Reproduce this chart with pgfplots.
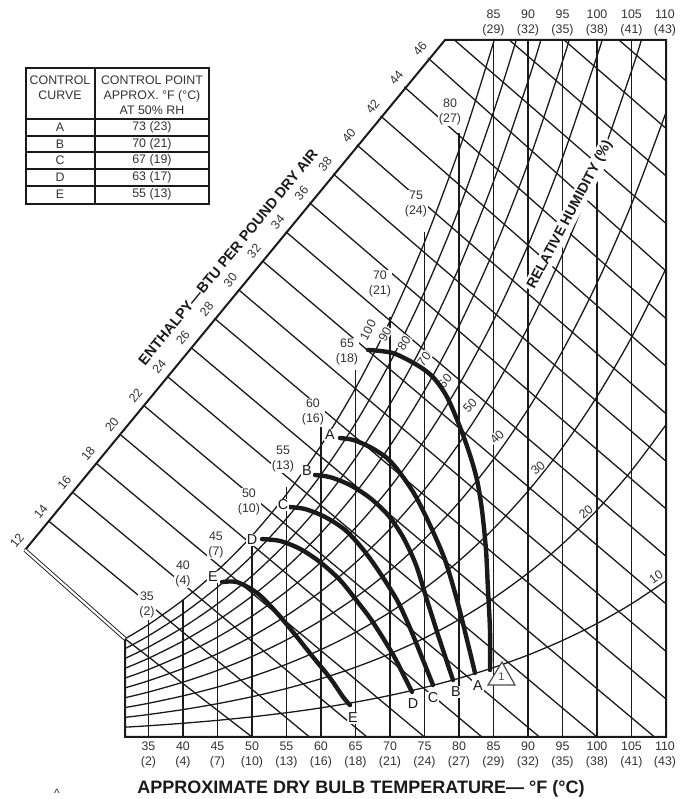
\documentclass[border=0pt]{standalone}
\usepackage{pgfplots}
\pgfplotsset{compat=1.18}
\usepackage{fontspec}
\setmainfont{Liberation Sans}
\definecolor{ink}{HTML}{1A1A1A}
\definecolor{txt}{HTML}{333333}
\pgfplotsset{chart/.style={scale only axis, width=340pt, height=399.5pt,
  xmin=13.478, xmax=112.029, ymin=-2.350, ymax=27.933, hide axis, clip=false,
  grid/.style={ink, line width=0.65pt},
  frame/.style={ink, line width=1.0pt},
  ctrl/.style={ink, line width=2.2pt, smooth, line cap=round}}}
\begin{document}
\begin{tikzpicture}
\begin{axis}[chart, name=ax]
% ---- frame
\addplot[frame] coordinates {(31.6,3.721) (31.6,0) (110,0) (110,26.417) (77.971,26.417) (17.101,7.087)};
% ---- saturation (100%)
\addplot[grid, smooth] coordinates {(31.6,3.721) (35,4.261) (40,5.195) (45,6.309) (50,7.631) (55,9.197) (60,11.044) (65,13.217) (70,15.768) (75,18.755) (80,22.245) (82.5,24.21) (85.11,26.417)};
% ---- RH curves
\addplot[grid, smooth] coordinates {(31.6,3.349) (35,3.835) (40,4.676) (45,5.678) (50,6.868) (55,8.277) (60,9.940) (65,11.895) (70,14.191) (75,16.880) (80,20.021) (85,23.686) (88.3,26.417)};
\addplot[grid, smooth] coordinates {(31.6,2.977) (35,3.409) (40,4.156) (45,5.047) (50,6.105) (55,7.358) (60,8.835) (65,10.574) (70,12.614) (75,15.004) (80,17.796) (85,21.054) (90,24.851) (91.87,26.417)};
\addplot[grid, smooth] coordinates {(31.6,2.605) (35,2.983) (40,3.637) (45,4.416) (50,5.342) (55,6.438) (60,7.731) (65,9.252) (70,11.038) (75,13.129) (80,15.572) (85,18.423) (90,21.745) (95,25.611) (95.96,26.417)};
\addplot[grid, smooth] coordinates {(31.6,2.233) (35,2.557) (40,3.117) (45,3.785) (50,4.579) (55,5.518) (60,6.626) (65,7.930) (70,9.461) (75,11.253) (80,13.347) (85,15.791) (90,18.638) (95,21.952) (100,25.808) (100.73,26.417)};
\addplot[grid, smooth] coordinates {(31.6,1.861) (35,2.131) (40,2.598) (45,3.155) (50,3.816) (55,4.599) (60,5.522) (65,6.609) (70,7.884) (75,9.378) (80,11.123) (85,13.159) (90,15.532) (95,18.294) (100,21.507) (105,25.241) (106.43,26.417)};
\addplot[grid, smooth] coordinates {(31.6,1.488) (35,1.704) (40,2.078) (45,2.524) (50,3.052) (55,3.679) (60,4.418) (65,5.287) (70,6.307) (75,7.502) (80,8.898) (85,10.527) (90,12.426) (95,14.635) (100,17.205) (105,20.192) (110,23.671)};
\addplot[grid, smooth] coordinates {(31.6,1.116) (35,1.278) (40,1.559) (45,1.893) (50,2.289) (55,2.759) (60,3.313) (65,3.965) (70,4.730) (75,5.627) (80,6.674) (85,7.895) (90,9.319) (95,10.976) (100,12.904) (105,15.144) (110,17.753)};
\addplot[grid, smooth] coordinates {(31.6,0.744) (35,0.852) (40,1.039) (45,1.262) (50,1.526) (55,1.839) (60,2.209) (65,2.643) (70,3.154) (75,3.751) (80,4.449) (85,5.264) (90,6.213) (95,7.317) (100,8.603) (105,10.096) (110,11.836)};
\addplot[grid, smooth] coordinates {(31.6,0.372) (35,0.426) (40,0.520) (45,0.631) (50,0.763) (55,0.920) (60,1.104) (65,1.322) (70,1.577) (75,1.876) (80,2.225) (85,2.632) (90,3.106) (95,3.659) (100,4.301) (105,5.048) (110,5.918)};
% ---- dry bulb verticals
\addplot[grid] coordinates {(35,0) (35,4.434)};
\addplot[grid] coordinates {(40,0) (40,5.195)};
\addplot[grid] coordinates {(45,0) (45,6.309)};
\addplot[grid] coordinates {(50,0) (50,7.631)};
\addplot[grid] coordinates {(55,0) (55,9.475)};
\addplot[grid] coordinates {(60,0) (60,11.749)};
\addplot[grid] coordinates {(65,0) (65,13.910)};
\addplot[grid] coordinates {(70,0) (70,15.918)};
\addplot[grid] coordinates {(75,0) (75,19.140)};
\addplot[grid] coordinates {(80,0) (80,22.892)};
\addplot[grid] coordinates {(85,0) (85,26.417)};
\addplot[grid] coordinates {(90,0) (90,26.417)};
\addplot[grid] coordinates {(95,0) (95,26.417)};
\addplot[grid] coordinates {(100,0) (100,26.417)};
\addplot[grid] coordinates {(105,0) (105,26.417)};
% ---- enthalpy lines (BTU/lb dry air)
\addplot[ink, line width=0.45pt, double, double distance=1.1pt] coordinates {(17.101,7.087) (31.6,3.721)};
\addplot[grid] coordinates {(31.6,3.721) (50,0)};
\addplot[grid] coordinates {(20.537,8.184) (58.333,0)};
\addplot[grid] coordinates {(23.973,9.281) (66.667,0)};
\addplot[grid] coordinates {(27.409,10.378) (75,0)};
\addplot[grid] coordinates {(30.844,11.475) (83.333,0)};
\addplot[grid] coordinates {(34.280,12.572) (91.667,0)};
\addplot[grid] coordinates {(37.716,13.668) (100,0)};
\addplot[grid] coordinates {(41.151,14.765) (108.333,0)};
\addplot[grid] coordinates {(44.587,15.862) (110,1.442)};
\addplot[grid] coordinates {(48.022,16.959) (110,3.244)};
\addplot[grid] coordinates {(51.458,18.056) (110,5.046)};
\addplot[grid] coordinates {(54.894,19.153) (110,6.848)};
\addplot[grid] coordinates {(58.330,20.250) (110,8.650)};
\addplot[grid] coordinates {(61.765,21.346) (110,10.452)};
\addplot[grid] coordinates {(65.200,22.443) (110,12.254)};
\addplot[grid] coordinates {(68.636,23.540) (110,14.057)};
\addplot[grid] coordinates {(72.071,24.637) (110,15.859)};
\addplot[grid] coordinates {(75.507,25.734) (110,17.661)};
\addplot[grid] coordinates {(79.34,26.417) (110,19.463)};
\addplot[grid] coordinates {(87.29,26.417) (110,21.265)};
\addplot[grid] coordinates {(95.23,26.417) (110,23.067)};
\addplot[grid] coordinates {(103.18,26.417) (110,24.869)};
\end{axis}
\begin{scope}[shift={(ax.north west)}, x=0.5pt, y=-0.5pt, txt,
  lb/.style={font=\fontsize{6.2}{7.4}\selectfont, align=center, inner sep=0.6pt},
  wl/.style={lb, fill=white},
  rh/.style={font=\fontsize{6.2}{7.4}\selectfont, fill=white, inner sep=0.4pt}]
% table
\draw[ink, line width=0.9pt] (26,68) rectangle (209,204);
\draw[ink, line width=0.7pt] (95,68) -- (95,204);
\foreach \yy in {119,136,152,169,186} \draw[ink, line width=0.8pt] (26,\yy) -- (209,\yy);
\node[lb] at (60,88) {CONTROL\\CURVE};
\node[lb] at (152,95.5) {CONTROL POINT\\APPROX. °F (°C)\\AT 50\% RH};
\node[lb] at (60,127.5) {A}; \node[lb] at (152,127.5) {73 (23)};
\node[lb] at (60,144) {B};   \node[lb] at (152,144) {70 (21)};
\node[lb] at (60,160.5) {C}; \node[lb] at (152,160.5) {67 (19)};
\node[lb] at (60,177.5) {D}; \node[lb] at (152,177.5) {63 (17)};
\node[lb] at (60,194.5) {E}; \node[lb] at (152,194.5) {55 (13)};
% bottom and top dry bulb labels
\foreach \xx/\f/\c in {148.5/35/2, 183/40/4, 217.5/45/7, 252/50/10, 286.5/55/13, 321/60/16, 355.5/65/18, 390/70/21, 424.5/75/24, 459/80/27, 493.5/85/29, 528/90/32, 562.5/95/35, 597/100/38, 631.5/105/41, 665/110/43}
  \node[lb] at (\xx,755) {\f\\(\c)};
\foreach \xx/\f/\c in {493.5/85/29, 528/90/32, 562.5/95/35, 597/100/38, 631.5/105/41, 665/110/43}
  \node[lb] at (\xx,23) {\f\\(\c)};
% wet bulb labels
\node[wl] at (147,605) {35\\(2)};
\node[wl] at (183,574) {40\\(4)};
\node[wl] at (216,545) {45\\(7)};
\node[wl] at (249,502) {50\\(10)};
\node[wl] at (283,459) {55\\(13)};
\node[wl] at (313,412) {60\\(16)};
\node[wl] at (347,352) {65\\(18)};
\node[wl] at (380,284) {70\\(21)};
\node[wl] at (416,204) {75\\(24)};
\node[wl] at (450,112) {80\\(27)};
% enthalpy scale labels
\foreach \h in {12,14,...,46} {
  \pgfmathsetmacro{\px}{25+(\h-12)*11.853-8}
  \pgfmathsetmacro{\py}{550-(\h-12)*14.47-9.5}
  \node[lb, rotate=50.7] at (\px,\py) {\h};
}
\node[font=\bfseries\fontsize{7.2}{8}\selectfont, rotate=50.7, text=ink] at (228,257) {ENTHALPY—BTU PER POUND DRY AIR};
% RH labels
\node[rh, rotate=62] at (368,330) {100};
\node[rh, rotate=60] at (385,334) {90};
\node[rh, rotate=55] at (404,343) {80};
\node[rh, rotate=52] at (424,359) {70};
\node[rh, rotate=50] at (445,381) {60};
\node[rh, rotate=47] at (470,406) {50};
\node[rh, rotate=45] at (497,437) {40};
\node[rh, rotate=42] at (538,468) {30};
\node[rh, rotate=40] at (586,512) {20};
\node[rh, rotate=35] at (656,577) {10};
\node[font=\bfseries\fontsize{7}{8}\selectfont, rotate=62, fill=white, inner sep=1pt, text=ink] at (570,215) {RELATIVE HUMIDITY (\%)};
\end{scope}
% ---- control curves on top
\begin{axis}[chart]
\addplot[ctrl] coordinates {(66.81,14.67) (70.43,14.55) (73.91,14.10) (76.23,13.64) (78.26,12.89) (80.14,11.75) (81.59,10.69) (82.61,9.74) (83.33,8.60) (83.91,7.09) (84.20,5.57) (84.49,4.06) (84.49,2.54)};
\addplot[ctrl] coordinates {(62.75,11.33) (64.64,11.26) (67.10,10.99) (69.57,10.57) (71.45,10.01) (73.62,9.17) (75.80,8.03) (77.97,6.71) (79.71,5.19) (81.16,3.68) (82.32,2.43)};
\addplot[ctrl] coordinates {(59.13,9.93) (61.30,9.85) (64.20,9.55) (67.10,9.06) (69.71,8.41) (71.88,7.58) (73.77,6.52) (75.36,5.19) (76.96,3.87) (78.26,2.84) (79.13,2.16)};
\addplot[ctrl] coordinates {(55.22,8.72) (57.68,8.64) (60.58,8.34) (63.48,7.85) (65.94,7.16) (68.26,6.33) (71.01,5.19) (72.90,4.13) (74.78,2.92) (76.23,1.97)};
\addplot[ctrl] coordinates {(51.45,7.50) (54.06,7.43) (56.96,7.13) (59.86,6.63) (62.75,5.95) (65.22,5.15) (67.10,4.51) (68.99,3.75) (70.72,2.99) (72.17,2.24) (73.19,1.71)};
\addplot[ctrl] coordinates {(45.65,5.87) (47.83,5.87) (50.72,5.46) (53.62,4.70) (56.52,3.79) (58.84,3.03) (61.30,2.24) (63.19,1.52) (64.20,1.21)};
\end{axis}
\begin{scope}[shift={(ax.north west)}, x=0.5pt, y=-0.5pt,
  let/.style={font=\fontsize{7.2}{8}\selectfont, fill=white, inner sep=0.6pt, text=ink}]
\node[let] at (330,435) {A}; \node[let] at (307,471) {B}; \node[let] at (283,505) {C};
\node[let] at (252,540) {D}; \node[let] at (213,577) {E};
\node[let] at (478,686) {A}; \node[let] at (456,692) {B}; \node[let] at (433,698) {C};
\node[let] at (413,704) {D}; \node[let] at (353,718) {E};
\draw[black!70, fill=white, line width=0.6pt] (488,685) -- (515,685) -- (502,662) -- cycle;
\node[font=\fontsize{5.5}{6}\selectfont, text=black!70] at (501.5,677) {1};
\node[font=\bfseries\fontsize{9}{10}\selectfont, text=ink] at (361,789) {APPROXIMATE DRY BULB TEMPERATURE— °F (°C)};
\node[font=\fontsize{6}{7}\selectfont, text=txt] at (57,793) {\textasciicircum};
\end{scope}
\pgfresetboundingbox
\path[use as bounding box] (ax.south west) rectangle (ax.north east);
\end{tikzpicture}
\end{document}
